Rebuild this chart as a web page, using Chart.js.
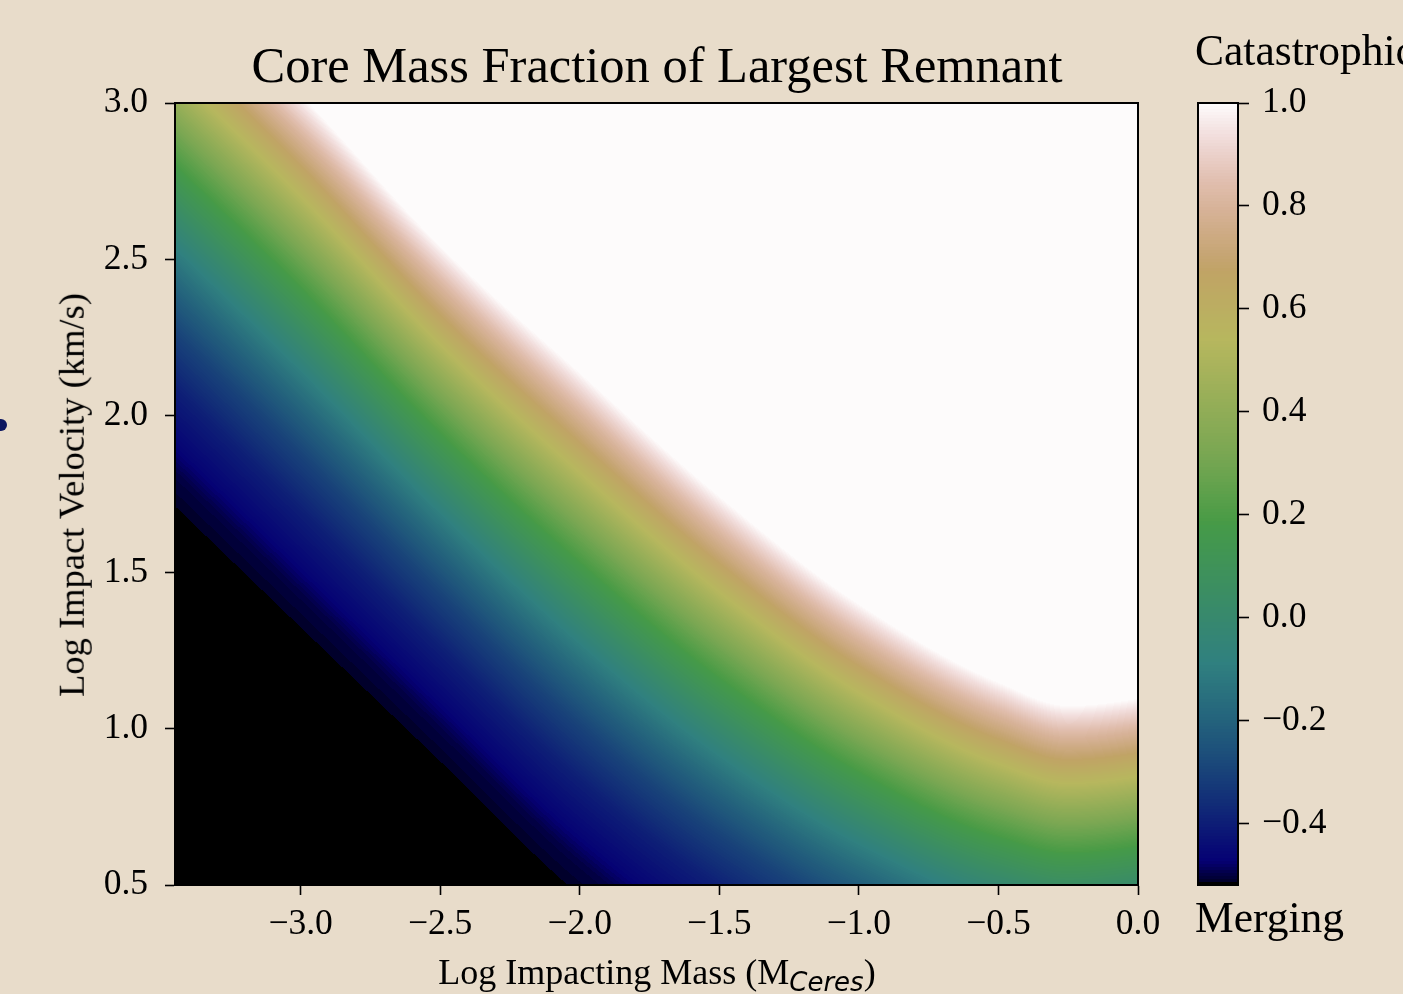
<!DOCTYPE html>
<html><head><meta charset="utf-8">
<script src="https://cdn.jsdelivr.net/npm/chart.js@4.4.1/dist/chart.umd.min.js"></script>
<style>
html,body{margin:0;padding:0;background:#e8dcca;width:1403px;height:994px;overflow:hidden;position:relative;font-family:"Liberation Serif","Times New Roman",serif;color:#000;}
canvas{position:absolute;top:0;}
#main{left:0;}
#cbar{left:1180px;}
.t{position:absolute;white-space:nowrap;line-height:1;}
#dot{position:absolute;left:-5px;top:419px;width:12px;height:12px;border-radius:50%;background:#0c1760;}
</style></head><body>
<canvas id="main" width="1403" height="994"></canvas>
<canvas id="cbar" width="223" height="994"></canvas>
<div class="t" style="left:657px;top:40px;font-size:50.5px;transform:translateX(-50%)">Core Mass Fraction of Largest Remnant</div>
<div class="t" style="left:72px;top:495px;font-size:36.5px;transform:translate(-50%,-50%) rotate(-90deg)">Log Impact Velocity (km/s)</div>
<div class="t" style="left:657px;top:954px;font-size:36px;transform:translateX(-50%)">Log Impacting Mass (M<span style="font-family:'DejaVu Sans';font-style:italic;font-size:26px;position:relative;top:7px">Ceres</span>)</div>
<div class="t" style="left:1195px;top:29px;font-size:43.5px">Catastrophic</div>
<div class="t" style="left:1195px;top:896px;font-size:43.5px">Merging</div>
<div id="dot"></div>
<script>
// ---------------- data ----------------
const xRange = [-3.45, 0.0];            // Log impacting mass (M_Ceres)
const yRange = [0.5, 3.0];              // Log impact velocity (km/s)
const xTickValues = [-3.0, -2.5, -2.0, -1.5, -1.0, -0.5, 0.0];
const yTickValues = [0.5, 1.0, 1.5, 2.0, 2.5, 3.0];
const cbarRange = [-0.52, 1.0];
const cbarTickValues = [-0.4, -0.2, 0.0, 0.2, 0.4, 0.6, 0.8, 1.0];
// regime edges, sampled at these log masses
const edgeLogMass     = [-3.7, -3.45, -3.0, -2.5, -2.0, -1.5, -1.0, -0.5, -0.25, 0.0, 0.15];
// catastrophic edge (CMF = 1, white region above)
const whiteEdgeLogVel = [3.64, 3.425, 3.03, 2.545, 2.14, 1.745, 1.40, 1.15, 1.075, 1.098, 1.14];
// merging edge (black region below)
const blackEdgeLogVel = [1.882, 1.667, 1.280, 0.853, 0.424, 0.10, -0.12, -0.25, -0.26, -0.24, -0.21];
// core mass fraction vs. fractional position between the two edges
const cmfLevels        = [1.0, 0.9, 0.8, 0.7, 0.6, 0.5, 0.4, 0.3, 0.2, 0.1, 0.0, -0.1, -0.2, -0.3, -0.4, -0.5, -0.52];
const fracBetweenEdges = [0, 0.039, 0.078, 0.12, 0.162, 0.205, 0.25, 0.295, 0.345, 0.40, 0.455, 0.512, 0.578, 0.66, 0.765, 0.915, 1.0];

// ---------------- colormap (gist_earth) ----------------
const GE = {
 r:[[0,0],[0.2824,0.1882],[0.4588,0.2714],[0.5490,0.4719],[0.6980,0.7176],[0.7882,0.7553],[1,0.9922]],
 g:[[0,0],[0.0275,0],[0.1098,0.1893],[0.1647,0.3035],[0.2078,0.3841],[0.2824,0.5020],[0.5216,0.6397],[0.6980,0.7171],[0.7882,0.6392],[0.7922,0.6413],[0.8000,0.6447],[0.8078,0.6481],[0.8157,0.6549],[0.8667,0.6991],[0.8745,0.7103],[0.8824,0.7216],[0.8902,0.7323],[0.8980,0.7430],[0.9412,0.8275],[0.9569,0.8635],[0.9647,0.8816],[0.9961,0.9733],[1,0.9843]],
 b:[[0,0],[0.0039,0.1684],[0.0078,0.2212],[0.0275,0.4329],[0.0314,0.4549],[0.2824,0.5004],[0.4667,0.2748],[0.5451,0.3205],[0.7843,0.3961],[0.8941,0.6651],[1,0.9843]]
};
function seg(tab,t){ if(t<=tab[0][0]) return tab[0][1]; for(let i=1;i<tab.length;i++){ if(t<=tab[i][0]){const a=tab[i-1],b=tab[i];return a[1]+(b[1]-a[1])*(t-a[0])/(b[0]-a[0]);}} return tab[tab.length-1][1]; }
const LUT=[]; for(let i=0;i<256;i++){const t=i/255; LUT.push([Math.round(255*seg(GE.r,t)),Math.round(255*seg(GE.g,t)),Math.round(255*seg(GE.b,t))]);}
function colorOf(v){ if(v<cbarRange[0]) return LUT[0]; let t=(v-cbarRange[0])/(cbarRange[1]-cbarRange[0]); t=Math.max(0,Math.min(1,t)); return LUT[Math.min(255,Math.floor(t*256))]; }

function monotoneSpline(xs, ys){
  const n=xs.length, d=[], m=new Array(n);
  for(let i=0;i<n-1;i++) d.push((ys[i+1]-ys[i])/(xs[i+1]-xs[i]));
  m[0]=d[0]; m[n-1]=d[n-2];
  for(let i=1;i<n-1;i++){ if(d[i-1]*d[i]<=0) m[i]=0; else { const h0=xs[i]-xs[i-1], h1=xs[i+1]-xs[i]; const w1=2*h1+h0, w2=h1+2*h0; m[i]=(w1+w2)/(w1/d[i-1]+w2/d[i]); } }
  return x=>{ let i=0; while(i<n-2 && x>xs[i+1]) i++; const h=xs[i+1]-xs[i], t=(x-xs[i])/h, t2=t*t, t3=t2*t;
    return (2*t3-3*t2+1)*ys[i]+(t3-2*t2+t)*h*m[i]+(-2*t3+3*t2)*ys[i+1]+(t3-t2)*h*m[i+1]; };
}
function profile(f){
  if(f<=fracBetweenEdges[0]) return cmfLevels[0];
  for(let i=1;i<fracBetweenEdges.length;i++){ if(f<=fracBetweenEdges[i]){ const g=(f-fracBetweenEdges[i-1])/(fracBetweenEdges[i]-fracBetweenEdges[i-1]); return cmfLevels[i-1]+(cmfLevels[i]-cmfLevels[i-1])*g; } }
  return cbarRange[0]-0.05;
}
const fmt = v => { const s=Number(v).toFixed(1); return s.startsWith('-')?'\u2212'+s.slice(1):s; };
const FONT = "'Liberation Serif','Times New Roman',serif";

const fieldPlugin = {
  id:'field',
  beforeDatasetsDraw(chart){
    const ctx=chart.ctx, ca=chart.chartArea, xs=chart.scales.x, ys=chart.scales.y;
    const wd=chart.data.datasets[0].data, bd=chart.data.datasets[1].data;
    const wS=monotoneSpline(wd.map(p=>p.x), wd.map(p=>p.y));
    const bS=monotoneSpline(bd.map(p=>p.x), bd.map(p=>p.y));
    const L=Math.round(ca.left), T=Math.round(ca.top), W=Math.round(ca.right)-L, H=Math.round(ca.bottom)-T;
    const off=document.createElement('canvas'); off.width=W; off.height=H;
    const octx=off.getContext('2d'); const img=octx.createImageData(W,H); const D=img.data;
    for(let i=0;i<W;i++){
      const xv=xs.getValueForPixel(L+i+0.5);
      const yW=ys.getPixelForValue(wS(xv)), yB=ys.getPixelForValue(bS(xv));
      for(let j=0;j<H;j++){
        const py=T+j+0.5;
        const v = py<=yW ? cmfLevels[0] : profile((py-yW)/(yB-yW));
        const c=colorOf(v); const o=(j*W+i)*4; D[o]=c[0]; D[o+1]=c[1]; D[o+2]=c[2]; D[o+3]=255;
      }
    }
    octx.putImageData(img,0,0);
    ctx.drawImage(off,L,T);
  },
  afterDraw(chart){
    const ctx=chart.ctx, ca=chart.chartArea; ctx.save(); ctx.strokeStyle='#000'; ctx.lineWidth=2;
    ctx.strokeRect(ca.left,ca.top,ca.right-ca.left,ca.bottom-ca.top); ctx.restore();
  }
};

const axisCommon = (ticksVals) => ({
  type:'linear',
  grid:{display:true,drawOnChartArea:false,drawTicks:true,tickLength:10,tickWidth:1.6,tickColor:'#000'},
  border:{display:true,color:'#000',width:2},
  ticks:{color:'#000',font:{family:FONT,size:35.5},callback:v=>fmt(v),maxRotation:0,autoSkip:false},
  afterBuildTicks:s=>{ s.ticks=ticksVals.map(v=>({value:v})); }
});

const xAxis = Object.assign(axisCommon(xTickValues),{min:xRange[0],max:xRange[1],position:'bottom',afterFit:s=>{s.height=109;}});
xAxis.ticks.padding=8;
const yAxis = Object.assign(axisCommon(yTickValues),{min:yRange[0],max:yRange[1],position:'left',afterFit:s=>{s.width=175;}});
yAxis.ticks.padding=17;

new Chart(document.getElementById('main'),{
  type:'scatter',
  data:{datasets:[
    {label:'Catastrophic edge',data:edgeLogMass.map((x,i)=>({x,y:whiteEdgeLogVel[i]})),showLine:false,pointRadius:0,borderWidth:0},
    {label:'Merging edge',data:edgeLogMass.map((x,i)=>({x,y:blackEdgeLogVel[i]})),showLine:false,pointRadius:0,borderWidth:0}
  ]},
  options:{responsive:false,animation:false,devicePixelRatio:1,
    layout:{padding:{left:0,top:103,right:265,bottom:0}},
    plugins:{legend:{display:false},tooltip:{enabled:false}},
    scales:{x:xAxis,y:yAxis}},
  plugins:[fieldPlugin]
});

const cbarPlugin = {
  id:'cbarFill',
  beforeDatasetsDraw(chart){
    const ctx=chart.ctx, ca=chart.chartArea, ys=chart.scales.y;
    for(let py=Math.round(ca.top); py<Math.round(ca.bottom); py++){
      const c=colorOf(ys.getValueForPixel(py+0.5)); ctx.fillStyle=`rgb(${c[0]},${c[1]},${c[2]})`;
      ctx.fillRect(ca.left,py,ca.right-ca.left,1);
    }
  },
  afterDraw(chart){
    const ctx=chart.ctx, ca=chart.chartArea; ctx.save(); ctx.strokeStyle='#000'; ctx.lineWidth=2;
    ctx.strokeRect(ca.left,ca.top,ca.right-ca.left,ca.bottom-ca.top); ctx.restore();
  }
};
const cbY = Object.assign(axisCommon(cbarTickValues),{min:cbarRange[0],max:cbarRange[1],position:'right',afterFit:s=>{s.width=165;}});
cbY.grid.tickLength=11; cbY.ticks.padding=13;
new Chart(document.getElementById('cbar'),{
  type:'scatter',
  data:{datasets:[{label:'Core mass fraction',data:[],pointRadius:0}]},
  options:{responsive:false,animation:false,devicePixelRatio:1,
    layout:{padding:{left:18,top:103,right:0,bottom:109}},
    plugins:{legend:{display:false},tooltip:{enabled:false}},
    scales:{x:{type:'linear',display:false,min:0,max:1},y:cbY}},
  plugins:[cbarPlugin]
});
</script>
</body></html>
